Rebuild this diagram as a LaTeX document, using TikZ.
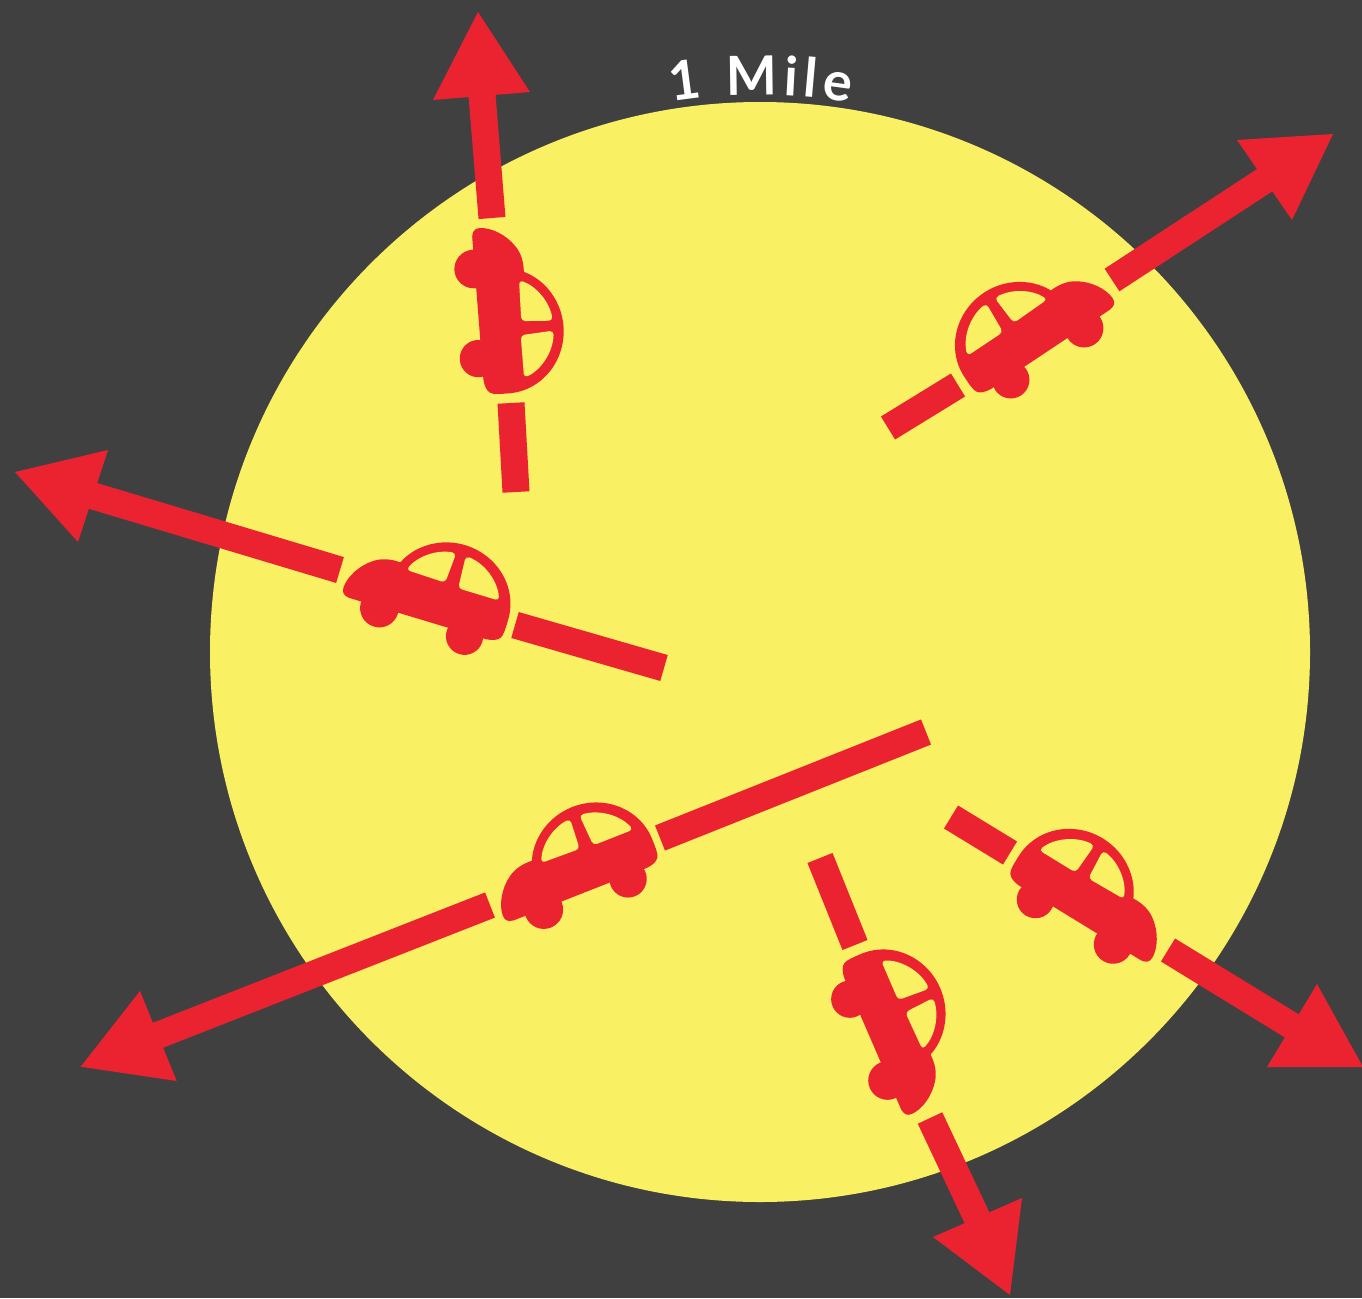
\documentclass[tikz,border=0pt]{standalone}
\usepackage{fontspec}
\setmainfont{Lato}
\usetikzlibrary{decorations.text}
\definecolor{bgdark}{HTML}{404041}
\definecolor{sunny}{HTML}{FAF064}
\definecolor{carred}{HTML}{EB2330}
\tikzset{
  bar/.style={draw=carred,line width=27pt,line cap=butt},
  head/.style={fill=carred},
}
\newcommand{\vehicle}[4]{%
  \begin{scope}[shift={(#1,-#2)},rotate=#3,yscale=#4,scale=1/3,shift={(0,-57)}]
    \fill[carred] (108.7,134.4) arc[start angle=24,end angle=180,x radius=188,y radius=178]
      .. controls (-251,40) and (-252,15) .. (-245,5)
      .. controls (-238,-5) and (-225,-10) .. (-205,-12)
      -- (225,-12)
      .. controls (240,-10) and (250,-5) .. (250,12)
      .. controls (250,45) and (225,90) .. (186,116)
      .. controls (165,130) and (140,136) .. (108.7,134.4) -- cycle;
    \fill[carred] (-140,-22) circle (56);
    \fill[carred] (129,-15) circle (58);
    \fill[sunny,rounded corners=4pt] (85.2,118) arc[start angle=23.2,end angle=84.2,x radius=158,y radius=152] -- (-38,115) -- cycle;
    \fill[sunny,rounded corners=4pt] (-74,209.4) arc[start angle=95.1,end angle=160,x radius=158,y radius=152] -- (-80,110) -- cycle;
  \end{scope}}
\begin{document}
\begin{tikzpicture}[x=1pt,y=1pt]
\useasboundingbox (0,0) rectangle (1362,-1298);
\clip (0,0) rectangle (1362,-1298);
\fill[bgdark] (0,0) rectangle (1362,-1298);
\fill[sunny] (760,-652) circle (550);
% label along the rim
\path[decorate,decoration={text along path,text align={fit to path},
  text={|\fontsize{54}{60}\selectfont\bfseries\color{white}|1 Mile}}]
  (760,-652) ++(99.1:557) arc[start angle=99.1,end angle=80.7,radius=557];
% bottom-left
\draw[bar] (926,-732) -- (660,-838);
\draw[bar] (490,-905) -- (128,-1047);
\fill[head] (80.7,-1066.7) -- (140,-991) -- (176.7,-1081) -- cycle;
\vehicle{575}{871.5}{201.5}{-1}
% left
\draw[bar] (664,-668) -- (515,-625);
\draw[bar] (340,-570) -- (90,-495);
\fill[head] (15,-472) -- (108,-450) -- (78,-542) -- cycle;
\vehicle{427.5}{597.5}{163.2}{-1}
% top
\draw[bar] (516,-492) -- (511,-403);
\draw[bar] (492,-218) -- (482,-95);
\fill[head] (478,-12) -- (530,-92) -- (433,-100) -- cycle;
\vehicle{501}{310}{94.5}{-1}
% upper right
\draw[bar] (888,-428) -- (958,-385);
\draw[bar] (1112,-280) -- (1265,-180);
\fill[head] (1333,-134) -- (1292,-220) -- (1237,-140) -- cycle;
\vehicle{1035}{332}{33.7}{1}
% lower right
\draw[bar] (951,-817) -- (1010,-853);
\draw[bar] (1168,-950) -- (1292,-1026);
\fill[head] (1363,-1067) -- (1317,-984) -- (1267,-1067) -- cycle;
\vehicle{1089}{901.5}{-31.5}{1}
% bottom
\draw[bar] (820,-858) -- (855,-945);
\draw[bar] (930,-1118) -- (978,-1220);
\fill[head] (1010,-1295) -- (1022,-1198) -- (933,-1237) -- cycle;
\vehicle{892.5}{1031.5}{-66.6}{1}
\end{tikzpicture}
\end{document}
